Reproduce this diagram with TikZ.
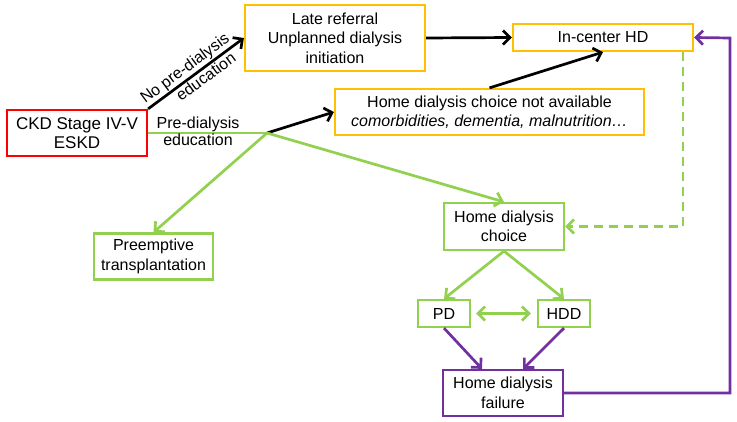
\documentclass[tikz,border=0pt]{standalone}
\usepackage{fontspec}
\setmainfont{Liberation Sans}
\usetikzlibrary{arrows,arrows.meta,calc}

\definecolor{boxred}{HTML}{FF0000}
\definecolor{boxorange}{HTML}{FFC000}
\definecolor{boxgreen}{HTML}{92D050}
\definecolor{boxpurple}{HTML}{7030A0}

\tikzset{
  box/.style={draw,line width=2.2pt,align=center,inner sep=0pt,fill=white},
  link/.style={line width=2.7pt}
}

\begin{document}
\begin{tikzpicture}[>={Straight Barb[length=7pt,width=14pt]},x=1pt,y=-1pt,font=\fontsize{16}{19.5}\selectfont]

\useasboundingbox (0,0) rectangle (737,422);

\node[box,draw=boxred,minimum width=140pt,minimum height=46pt,font=\fontsize{17}{19.5}\selectfont] (a) at (77,133) {CKD Stage IV-V\\ESKD};
\node[box,draw=boxorange,minimum width=180pt,minimum height=66pt] (b) at (335,38) {Late referral\\Unplanned dialysis\\initiation};
\node[box,draw=boxorange,minimum width=180pt,minimum height=27pt] (c) at (603,37.5) {In-center HD};
\node[box,draw=boxgreen,minimum width=119pt,minimum height=46pt] (e) at (153.5,256.5) {Preemptive\\transplantation};
\node[box,draw=boxorange,minimum width=309pt,minimum height=46pt] (f) at (489.5,112) {Home dialysis choice not available\\\textit{comorbidities, dementia, malnutrition…}};
\node[box,draw=boxgreen,minimum width=120pt,minimum height=47pt] (g) at (504,226.5) {Home dialysis\\choice};
\node[box,draw=boxgreen,minimum width=52pt,minimum height=27pt] (h) at (444,313.5) {PD};
\node[box,draw=boxgreen,minimum width=52pt,minimum height=27pt] (i) at (564,313.5) {HDD};
\node[box,draw=boxpurple,minimum width=120pt,minimum height=46pt] (k) at (503,393) {Home dialysis\\failure};

\coordinate (j) at (267,133);
\coordinate (r) at (730,38);

\draw[link,->] (a.north east) -- (b.west)
  node[pos=0.45,sloped,above,inner sep=1pt] {No pre-dialysis}
  node[pos=0.55,sloped,below,inner sep=1pt] {education};
\draw[link,boxgreen] (a.east |- j) -- (j);
\node[above,inner sep=1pt] (p) at (198,133) {Pre-dialysis};
\node[below,inner sep=1pt] (q) at (198,133) {education};
\draw[link,->] (j) -- (f.west);
\draw[link,boxgreen,->] (j) -- (g.north);
\draw[link,boxgreen,->] (j) -- (e.north);
\draw[link,->] (b.east) -- (c.west);
\draw[link,->] (f.north) -- (c.south);
\draw[link,boxgreen,dash pattern=on 9pt off 6pt,->] ([xshift=-11pt]c.south east) |- (g.east);
\draw[link,boxgreen,->] (g.south) -- (h.north);
\draw[link,boxgreen,->] (g.south) -- (i.north);
\draw[link,boxgreen,<->] ([xshift=5pt]h.east) -- ([xshift=-6pt]i.west);
\draw[link,boxpurple,->] (h.south) -- ([xshift=-21pt]k.north);
\draw[link,boxpurple,->] (i.south) -- ([xshift=20pt]k.north);
\draw[link,boxpurple,->] (k.east) -| (r) -- (c.east);

\end{tikzpicture}
\end{document}
